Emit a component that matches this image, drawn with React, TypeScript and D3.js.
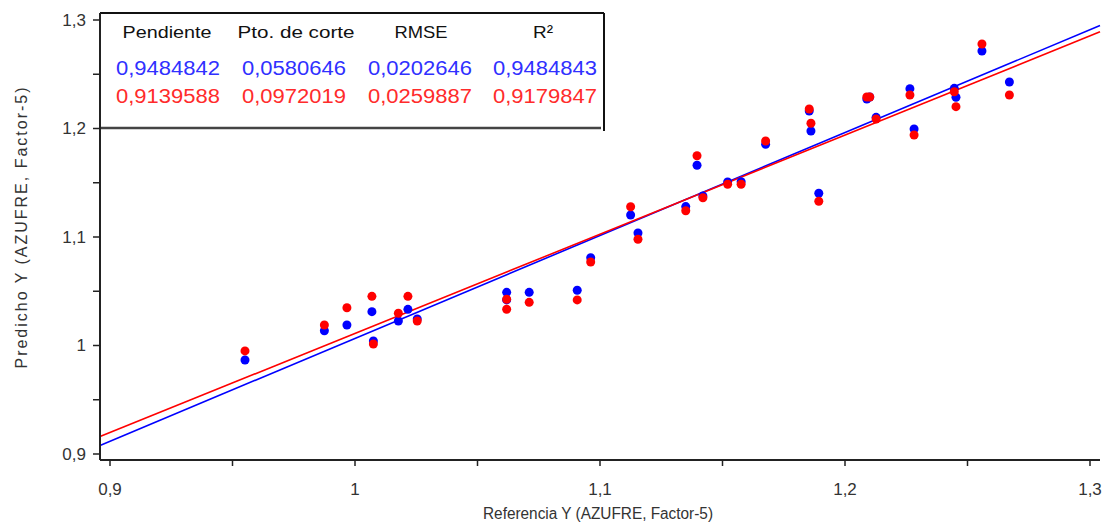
import React from "react";
import { scaleLinear, formatLocale } from "d3";

// reference values (x) and predictions of the two models
const refX = [
  0.9551, 0.9875, 0.9967, 1.0069, 1.0075, 1.0177, 1.0216, 1.0254, 1.0619, 1.0619,
  1.0711, 1.0907, 1.0962, 1.1125, 1.1155, 1.135, 1.1396, 1.142, 1.1521, 1.1576,
  1.1676, 1.1854, 1.1861, 1.1893, 1.2089, 1.2101, 1.2127, 1.2265, 1.2282, 1.2446,
  1.2453, 1.2559, 1.2671,
];
const predBlue = [
  0.9866, 1.0136, 1.0189, 1.0312, 1.0041, 1.0226, 1.0333, 1.0245, 1.049, 1.042,
  1.049, 1.0509, 1.0809, 1.1203, 1.1037, 1.128, 1.1661, 1.1378, 1.1507, 1.151,
  1.1854, 1.2161, 1.1977, 1.1403, 1.2272, 1.229, 1.2103, 1.2367, 1.1995, 1.237,
  1.2288, 1.2714, 1.2429,
];
const predRed = [
  0.995, 1.0189, 1.0348, 1.0453, 1.0014, 1.0297, 1.0453, 1.0226, 1.0426, 1.0334,
  1.0398, 1.042, 1.077, 1.1279, 1.0979, 1.1242, 1.1749, 1.1362, 1.1486, 1.1486,
  1.1885, 1.218, 1.2048, 1.1329, 1.229, 1.229, 1.2088, 1.2309, 1.194, 1.2339,
  1.2201, 1.2779, 1.2309,
];

const headers = ["Pendiente", "Pto. de corte", "RMSE", "R²"];
const statsBlue = ["0,9484842", "0,0580646", "0,0202646", "0,9484843"];
const statsRed = ["0,9139588", "0,0972019", "0,0259887", "0,9179847"];
const slopes = [0.9484842, 0.9139588];
const intercepts = [0.0580646, 0.0972019];
const seriesColors = ["#0000ff", "#ff0000"];
const textColors = ["#3030ff", "#ff2b2b"];

const locale = formatLocale({ decimal: ",", thousands: ".", grouping: [3], currency: ["", ""] });
const fmt = locale.format("~g");

export default function App() {
  const width = 1106;
  const height = 525;
  const left = 100;
  const right = 1100;
  const top = 13;
  const bottom = 460;

  const xScale = scaleLinear().domain([0.9, 1.3]).range([110, 1090]);
  const yScale = scaleLinear().domain([0.9, 1.3]).range([454, 20]);
  const ticks = xScale.ticks(8);
  const isMajor = (v: number) => Math.abs(Math.round(v * 10) - v * 10) < 1e-6;

  const x0 = xScale.invert(left);
  const x1 = xScale.invert(right);

  const font = "'Liberation Sans', Arial, sans-serif";
  const headerX = [167, 296, 421, 543];
  const headerW = [89, 117, 53, 20];
  const valueX = [168, 294, 420, 545];

  return (
    <svg width={width} height={height} style={{ position: "absolute", left: 0, top: 0 }} fontFamily={font}>
      <rect width={width} height={height} fill="#fff" />

      {/* regression lines */}
      {slopes.map((s, i) => (
        <line
          key={i}
          x1={xScale(x0)}
          y1={yScale(s * x0 + intercepts[i])}
          x2={xScale(x1)}
          y2={yScale(s * x1 + intercepts[i])}
          stroke={seriesColors[i]}
          strokeWidth={1.6}
        />
      ))}

      {/* points */}
      {refX.map((v, i) => (
        <circle key={"b" + i} cx={xScale(v)} cy={yScale(predBlue[i])} r={4.5} fill={seriesColors[0]} />
      ))}
      {refX.map((v, i) => (
        <circle key={"r" + i} cx={xScale(v)} cy={yScale(predRed[i])} r={4.5} fill={seriesColors[1]} />
      ))}

      {/* table box */}
      <rect x={left} y={top} width={504} height={115} fill="#fff" />
      <line x1={left} y1={top} x2={604} y2={top} stroke="#111" strokeWidth={2} />
      <line x1={604} y1={top} x2={604} y2={131} stroke="#111" strokeWidth={2} />
      <line x1={left} y1={128} x2={601} y2={128} stroke="#444" strokeWidth={2.5} />
      {headers.map((h, i) => (
        <text key={h} x={headerX[i]} y={38} textAnchor="middle" fontSize={17} fill="#111"
          textLength={headerW[i]} lengthAdjust="spacingAndGlyphs">
          {h}
        </text>
      ))}
      {statsBlue.map((t, i) => (
        <text key={"sb" + i} x={valueX[i]} y={75} textAnchor="middle" fontSize={19.5} fill={textColors[0]}
          textLength={104} lengthAdjust="spacingAndGlyphs">
          {t}
        </text>
      ))}
      {statsRed.map((t, i) => (
        <text key={"sr" + i} x={valueX[i]} y={103} textAnchor="middle" fontSize={19.5} fill={textColors[1]}
          textLength={104} lengthAdjust="spacingAndGlyphs">
          {t}
        </text>
      ))}

      {/* axes */}
      <line x1={left} y1={top} x2={left} y2={bottom} stroke="#222" strokeWidth={2} />
      <line x1={left} y1={bottom} x2={right} y2={bottom} stroke="#222" strokeWidth={2} />
      {ticks.map((t) => (
        <g key={"x" + t} transform={`translate(${xScale(t)},${bottom})`}>
          <line y2={6} stroke="#222" strokeWidth={1.5} />
          {isMajor(t) && (
            <text y={35} textAnchor="middle" fontSize={17} fill="#333">
              {fmt(t)}
            </text>
          )}
        </g>
      ))}
      {ticks.map((t) => (
        <g key={"y" + t} transform={`translate(${left},${yScale(t)})`}>
          <line x2={-7} stroke="#222" strokeWidth={1.5} />
          {isMajor(t) && (
            <text x={-14} dy="0.35em" textAnchor="end" fontSize={17} fill="#333">
              {fmt(t)}
            </text>
          )}
        </g>
      ))}

      <text x={598} y={519} textAnchor="middle" fontSize={16} fill="#333" textLength={230} lengthAdjust="spacingAndGlyphs">
        Referencia Y (AZUFRE, Factor-5)
      </text>
      <text transform="translate(27,228) rotate(-90)" textAnchor="middle" fontSize={16} fill="#333"
        textLength={281} lengthAdjust="spacing">
        Predicho Y (AZUFRE, Factor-5)
      </text>
    </svg>
  );
}
